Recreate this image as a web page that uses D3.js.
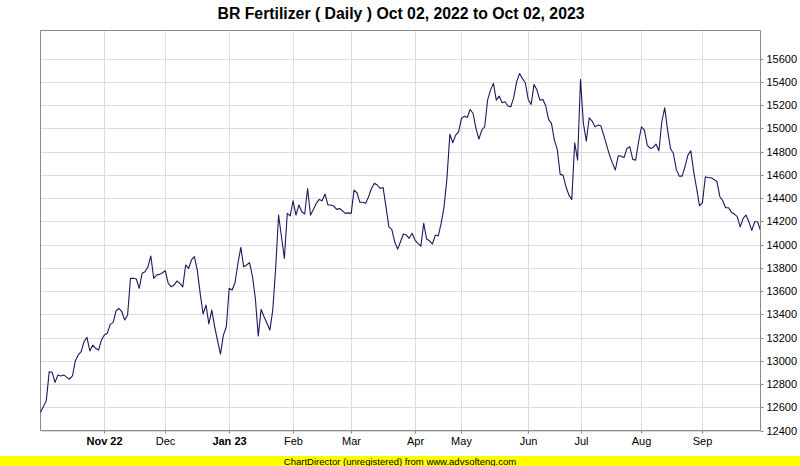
<!DOCTYPE html>
<html>
<head>
<meta charset="utf-8">
<script src="https://cdn.jsdelivr.net/npm/d3@7"></script>
<style>
  html, body { margin: 0; padding: 0; background: #ffffff; }
  svg { display: block; font-family: "Liberation Sans", Arial, sans-serif; }
</style>
</head>
<body>
<svg id="chart" width="800" height="466"></svg>
<script>
// ---- DATA ----
const chartTitle = "BR Fertilizer ( Daily ) Oct 02, 2022 to Oct 02, 2023";
const footerText = "ChartDirector (unregistered) from www.advsofteng.com";

const values = [
  12557, 12607, 12657, 12906, 12901, 12814, 12878, 12869, 12878, 12859,
  12841, 12869, 13001, 13050, 13078, 13164, 13202, 13084, 13135, 13107,
  13092, 13179, 13221, 13236, 13313, 13328, 13428, 13451, 13422, 13351,
  13394, 13709, 13709, 13703, 13623, 13752, 13766, 13808, 13901, 13709,
  13737, 13743, 13757, 13774, 13666, 13636, 13651, 13686, 13666, 13636,
  13824, 13794, 13867, 13895, 13780, 13580, 13402, 13479, 13317, 13436,
  13292, 13171, 13058, 13221, 13292, 13623, 13608, 13671, 13838, 13975,
  13808, 13824, 13844, 13729, 13537, 13213, 13442, 13379, 13322, 13264,
  13436, 13794, 14253, 14067, 13881, 14268, 14246, 14376, 14253, 14340,
  14282, 14262, 14482, 14253, 14302, 14354, 14388, 14376, 14434, 14340,
  14340, 14331, 14302, 14310, 14290, 14268, 14272, 14268, 14468, 14445,
  14363, 14363, 14354, 14411, 14482, 14526, 14512, 14482, 14491, 14324,
  14152, 14130, 14023, 13960, 14023, 14090, 14081, 14053, 14096, 14038,
  14010, 13986, 14182, 14047, 14032, 14004, 14081, 14073, 14182, 14324,
  14569, 14949, 14875, 14941, 14969, 15084, 15104, 15093, 15161, 15127,
  14999, 14907, 14984, 15013, 15242, 15328, 15386, 15242, 15276, 15219,
  15228, 15191, 15185, 15265, 15399, 15470, 15428, 15391, 15248, 15205,
  15377, 15328, 15242, 15248, 15195, 15076, 15042, 14898, 14818, 14603,
  14597, 14497, 14425, 14388, 14875, 14726, 15420, 15042, 14890, 15090,
  15062, 15013, 15027, 15021, 14941, 14855, 14769, 14700, 14641, 14763,
  14760, 14749, 14826, 14840, 14732, 14726, 14884, 15013, 14984, 14855,
  14826, 14835, 14864, 14806, 15056, 15175, 14984, 14826, 14783, 14646,
  14588, 14588, 14669, 14769, 14806, 14625, 14482, 14333, 14360, 14582,
  14574, 14574, 14560, 14540, 14411, 14377, 14316, 14316, 14276, 14262,
  14239, 14152, 14225, 14253, 14196, 14121, 14196, 14196, 14121
];

// index (trading day) of the first day of each labelled month
const tickIndex = [22, 43, 65, 87, 107, 129, 145, 168, 186, 207, 228];
const tickLabels = ["Nov 22", "Dec", "Jan 23", "Feb", "Mar", "Apr", "May", "Jun", "Jul", "Aug", "Sep"];

const yTickValues = [12400, 12600, 12800, 13000, 13200, 13400, 13600, 13800,
                     14000, 14200, 14400, 14600, 14800, 15000, 15200, 15400, 15600];

// ---- LAYOUT ----
const W = 800, H = 466;
const plot = { left: 40.5, right: 760.5, top: 30.5, bottom: 430.5 };
const frameColor = "#8a8a8a";
const gridColor = "#dcdcdc";

const svg = d3.select("#chart");

const x = d3.scaleLinear().domain([0, values.length - 1]).range([plot.left, plot.right]);
const y = d3.scaleLinear().domain([12400, 15600]).range([plot.bottom, 58.5]);

// background
svg.append("rect").attr("x", 0).attr("y", 0).attr("width", W).attr("height", H).attr("fill", "#ffffff");

// title
svg.append("text")
  .attr("x", 401).attr("y", 18.5)
  .attr("text-anchor", "middle")
  .attr("font-size", 15.8).attr("font-weight", "bold")
  .attr("fill", "#000")
  .text(chartTitle);

// grid
const grid = svg.append("g");
grid.selectAll("line.h").data(yTickValues).enter().append("line")
  .attr("x1", plot.left).attr("x2", plot.right)
  .attr("y1", d => Math.round(y(d)) + 0.5).attr("y2", d => Math.round(y(d)) + 0.5)
  .attr("stroke", gridColor).attr("stroke-width", 1);
grid.selectAll("line.v").data(tickIndex).enter().append("line")
  .attr("x1", d => Math.round(x(d)) + 0.5).attr("x2", d => Math.round(x(d)) + 0.5)
  .attr("y1", plot.top).attr("y2", plot.bottom)
  .attr("stroke", gridColor).attr("stroke-width", 1);

// frame (left & top)
svg.append("path")
  .attr("d", `M${plot.left},${plot.bottom}V${plot.top}H${plot.right}`)
  .attr("fill", "none").attr("stroke", frameColor).attr("stroke-width", 1);

// line
const line = d3.line().x((d, i) => x(i)).y(d => y(d));
svg.append("path")
  .datum(values)
  .attr("d", line)
  .attr("fill", "none")
  .attr("stroke", "#1a1a5e")
  .attr("stroke-width", 1.1)
  .attr("stroke-linejoin", "round");

// right axis
const yAxis = d3.axisRight(y)
  .tickValues(yTickValues)
  .tickSize(3)
  .tickPadding(3)
  .tickFormat(d3.format("d"));
const gy = svg.append("g").attr("transform", `translate(${plot.right},0)`).call(yAxis);
gy.select(".domain").remove();
gy.selectAll(".tick").attr("transform", d => `translate(0,${Math.round(y(d)) + 0.5})`);
gy.selectAll(".tick line").attr("stroke", frameColor);
gy.selectAll(".tick text")
  .attr("font-size", 11).attr("font-family", "Liberation Sans, Arial, sans-serif")
  .attr("fill", "#000");
svg.append("line")
  .attr("x1", plot.right).attr("x2", plot.right)
  .attr("y1", plot.top).attr("y2", plot.bottom)
  .attr("stroke", frameColor);

// bottom axis
const xAxis = d3.axisBottom(x)
  .tickValues(tickIndex)
  .tickSize(3)
  .tickPadding(4)
  .tickFormat((d, i) => tickLabels[i]);
const gx = svg.append("g").attr("transform", `translate(0,${plot.bottom})`).call(xAxis);
gx.select(".domain").remove();
gx.selectAll(".tick").attr("transform", d => `translate(${Math.round(x(d)) + 0.5},0)`);
gx.selectAll(".tick line").attr("stroke", frameColor);
gx.selectAll(".tick text")
  .attr("font-size", 11).attr("font-family", "Liberation Sans, Arial, sans-serif")
  .attr("fill", "#000")
  .attr("font-weight", (d, i) => tickLabels[i].indexOf(" ") >= 0 ? "bold" : "normal");
svg.append("line")
  .attr("x1", plot.left).attr("x2", plot.right)
  .attr("y1", plot.bottom).attr("y2", plot.bottom)
  .attr("stroke", frameColor);

// footer
svg.append("rect").attr("x", 0).attr("y", 456).attr("width", W).attr("height", 10).attr("fill", "#ffff00");
svg.append("text")
  .attr("x", 400).attr("y", 464.5)
  .attr("text-anchor", "middle")
  .attr("font-size", 9.5)
  .attr("fill", "#000")
  .text(footerText);
</script>
</body>
</html>
